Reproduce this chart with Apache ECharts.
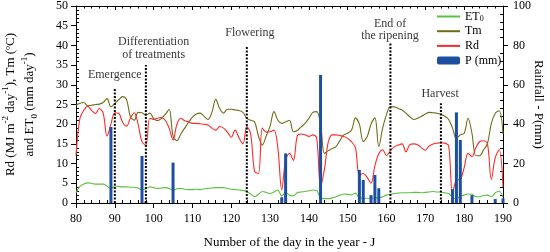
<!DOCTYPE html>
<html><head><meta charset="utf-8">
<script src="https://cdn.jsdelivr.net/npm/echarts@6/dist/echarts.min.js"></script>
<style>html,body{margin:0;padding:0;background:#fff}#c{width:550px;height:252px}</style>
</head><body><div id="c"></div>
<script>
// ---- data ----
const startDay = 80;
const et0 = [2.6,4.2,4.8,5.1,5.0,4.8,4.8,4.8,4.3,3.6,
  4.3,4.2,4.1,4.1,4.0,4.0,3.8,3.3,3.6,4.1,
  3.9,3.7,3.8,3.9,3.7,3.3,3.6,3.7,3.5,3.4,
  3.4,3.5,3.4,3.6,3.7,3.8,3.9,3.9,3.9,3.7,
  3.5,3.4,3.3,3.2,2.9,2.3,1.6,2.2,2.9,2.7,
  2.4,2.8,3.3,1.8,2.6,2.0,1.8,2.6,2.8,2.9,
  3.1,3.3,3.2,1.2,1.1,1.1,1.3,1.6,2.0,2.3,
  2.2,2.1,2.5,1.3,1.2,1.2,1.2,1.3,1.3,1.6,
  2.0,2.2,2.4,2.5,2.6,2.6,2.6,2.7,2.7,2.6,
  2.7,2.8,2.9,2.8,2.8,2.6,2.4,1.5,1.0,1.8,
  2.0,2.3,2.2,1.6,1.6,1.9,2.0,1.6,2.6,3.0,1.4];
const tm = [24.8,25.3,25.5,24.7,24.8,25.0,25.1,25.5,26.5,24.4,
  25.2,26.2,27.0,26.3,22.0,21.0,23.0,22.9,22.3,22.8,
  21.5,20.9,21.5,22.5,23.8,17.0,15.8,17.5,19.0,20.5,
  21.8,22.6,22.8,22.0,21.2,23.0,26.3,24.0,22.8,23.8,
  23.8,23.6,23.5,23.0,21.5,21.0,20.6,17.0,14.7,17.0,
  19.5,23.2,21.0,20.2,20.6,21.0,18.1,18.4,19.3,20.2,
  21.5,23.0,23.2,20.0,12.6,13.3,13.8,14.3,15.9,17.3,
  17.7,18.5,21.6,20.0,15.6,16.8,20.0,21.6,14.3,19.0,
  22.5,24.5,24.4,24.0,23.6,22.8,21.9,21.2,21.5,22.0,
  22.6,23.0,22.9,22.8,22.5,22.0,21.2,19.0,16.4,17.3,
  17.7,21.5,17.7,12.0,12.0,13.5,15.1,20.2,22.8,23.4,17.5];
const rd = [12.0,21.5,23.5,24.6,23.5,22.7,24.0,22.8,17.0,20.0,
  22.9,22.8,20.5,19.5,21.5,22.9,20.0,15.5,14.7,21.5,
  21.2,21.5,21.7,21.0,19.0,16.0,20.0,21.5,20.9,20.6,
  20.2,20.2,20.1,20.0,19.8,19.0,18.5,19.4,19.0,18.0,
  16.7,18.5,16.5,15.0,19.4,17.5,8.0,7.5,19.0,18.0,
  18.1,18.5,14.0,3.3,10.9,12.6,10.8,17.0,17.5,17.3,
  16.9,17.3,16.5,4.1,8.6,15.5,17.3,17.3,17.1,16.9,
  16.4,15.5,14.0,7.0,7.5,6.5,5.0,9.5,12.5,13.5,
  12.0,13.3,14.3,14.7,15.0,13.0,14.8,15.0,14.8,14.0,
  13.4,14.5,15.0,15.2,15.3,15.2,14.5,2.5,5.8,6.0,
  9.0,12.6,11.8,14.0,15.6,15.8,15.0,6.0,11.5,13.5,4.0];
const rainDays = [89,97,98,105,133,134,143,153,154,156,157,158,177,178,179,182,188,190];
const rainMm   = [38.6,23.9,0.8,20.5,2.9,25.2,65,16.8,11.7,4,14.2,7.5,7,46,32,4,2,2.3];
const eventDays  = [90,98,124,161,174];
const eventTops  = [29.2,35,39.7,40.5,25.3];
const eventNames = ['Emergence','Differentiation\nof treatments','Flowering','End of\nthe ripening','Harvest'];
const xTickMin = 80, xTickMax = 190, xTickStep = 10;
const leftMin = 0, leftMax = 50, leftStep = 5;
const rightMin = 0, rightMax = 100, rightStep = 20;

// ---- layout (not data) ----
const labelAt = [[90,32.5],[100,39.2],[124.8,43.1],[160.9,44.0],[173.8,27.8]];

const FONT = 'Liberation Serif';
const pairs = arr => arr.map((v,i)=>[startDay+i, v]);

const eventSeries = eventDays.map((d,i)=>({
  type:'line', silent:true, symbol:'none', z:5,
  data:[[d,0],[d,eventTops[i]]],
  lineStyle:{color:'#000', width:2, type:[2,1.5]}
}));

const chart = echarts.init(document.getElementById('c'), null, {renderer:'canvas'});
chart.setOption({
  animation:false,
  textStyle:{fontFamily:FONT},
  grid:{left:76, right:47, top:6, bottom:49, outerBoundsMode:'none', containLabel:false},
  legend:{
    orient:'vertical', left:431, top:5, itemWidth:23, itemHeight:8, itemGap:1.7,
    data:[
      {name:'ET0', itemStyle:{opacity:0}},
      {name:'Tm', itemStyle:{opacity:0}},
      {name:'Rd', itemStyle:{opacity:0}},
      {name:'P (mm)'}
    ],
    textStyle:{fontFamily:FONT, fontSize:12, color:'#000', lineHeight:13,
      rich:{a:{fontFamily:FONT,fontSize:12,color:'#000',lineHeight:13}, n:{fontFamily:FONT,fontSize:12,color:'#000',lineHeight:13},
            s:{fontFamily:FONT,fontSize:8,color:'#000',verticalAlign:'bottom',lineHeight:8}}},
    formatter: n => n==='ET0' ? '{a|ET}{s|0}' : '{n|'+n+'}'
  },
  xAxis:[{
    type:'value', min:xTickMin, max:xTickMax, interval:xTickStep, position:'bottom',
    axisLine:{lineStyle:{color:'#000',width:1}},
    axisTick:{inside:false,length:5,lineStyle:{color:'#000'}},
    minorTick:{show:true,splitNumber:5,length:-3,lineStyle:{color:'#000'}},
    splitLine:{show:false},
    axisLabel:{color:'#000',fontSize:12,fontFamily:FONT,margin:10},
    name:'Number of the day in the year - J', nameLocation:'middle', nameGap:33, nameMoveOverlap:false,
    nameTextStyle:{color:'#000',fontSize:13,fontFamily:FONT}
  },{
    type:'value', min:xTickMin, max:xTickMax, interval:xTickStep, position:'top',
    axisLine:{onZero:false,lineStyle:{color:'#000',width:1}},
    axisTick:{inside:true,length:4,lineStyle:{color:'#000'}},
    minorTick:{show:true,splitNumber:5,length:2.5,lineStyle:{color:'#000'}},
    splitLine:{show:false}, axisLabel:{show:false}
  }],
  yAxis:[{
    type:'value', min:leftMin, max:leftMax, interval:leftStep, position:'left',
    axisLine:{show:true,onZero:false,lineStyle:{color:'#000',width:1}},
    axisTick:{show:true,inside:false,length:5,lineStyle:{color:'#000'}},
    minorTick:{show:true,splitNumber:5,length:-3,lineStyle:{color:'#000'}},
    splitLine:{show:false},
    axisLabel:{color:'#000',fontSize:12,fontFamily:FONT,margin:8},
    name:'{t|Rd (MJ m}{sup|-2}{t| day}{sup|-1}{t|), Tm (ºC)}\n{t|and ET}{sub|0}{t| (mm day}{sup|-1}{t|)}',
    nameLocation:'middle', nameRotate:90, nameGap:37, nameMoveOverlap:false,
    nameTextStyle:{color:'#000', fontFamily:FONT, align:'center',
      rich:{
        t:{fontSize:13,fontFamily:FONT,color:'#000',lineHeight:19},
        sup:{fontSize:9,fontFamily:FONT,color:'#000',lineHeight:9,verticalAlign:'top'},
        sub:{fontSize:9,fontFamily:FONT,color:'#000',lineHeight:11,verticalAlign:'bottom'}
      }}
  },{
    type:'value', min:rightMin, max:rightMax, interval:rightStep, position:'right',
    axisLine:{show:true,onZero:false,lineStyle:{color:'#000',width:1}},
    axisTick:{show:true,inside:false,length:5,lineStyle:{color:'#000'}},
    minorTick:{show:true,splitNumber:5,length:-3,lineStyle:{color:'#000'}},
    splitLine:{show:false},
    axisLabel:{color:'#000',fontSize:12,fontFamily:FONT,margin:10},
    name:'Rainfall - P(mm)', nameLocation:'middle', nameRotate:-90, nameGap:29, nameMoveOverlap:false,
    nameTextStyle:{color:'#000',fontSize:13,fontFamily:FONT}
  }],
  series:[
    {name:'ET0', type:'line', symbol:'none', smooth:0.35, data:pairs(et0),
     lineStyle:{color:'#5cc040',width:1.1}, itemStyle:{color:'#5cc040'}},
    {name:'Tm', type:'line', symbol:'none', smooth:0.35, data:pairs(tm),
     lineStyle:{color:'#6e6e18',width:1.1}, itemStyle:{color:'#6e6e18'}},
    {name:'Rd', type:'line', symbol:'none', smooth:0.35, data:pairs(rd),
     lineStyle:{color:'#ff2a2a',width:1.1}, itemStyle:{color:'#ff2a2a'}},
    {name:'P (mm)', type:'bar', yAxisIndex:1, barWidth:3, z:4,
     data:rainDays.map((d,i)=>[d,rainMm[i]]), itemStyle:{color:'#1d4fa0'}},
    ...eventSeries,
    {type:'scatter', symbolSize:0, silent:true, z:6,
     data:labelAt.map((p,i)=>({value:p, name:eventNames[i]})),
     label:{show:true, position:'inside', formatter:p=>p.name, color:'#000',
       fontSize:12, fontFamily:FONT, lineHeight:12.5, align:'center', verticalAlign:'middle'}}
  ]
});
</script></body></html>
